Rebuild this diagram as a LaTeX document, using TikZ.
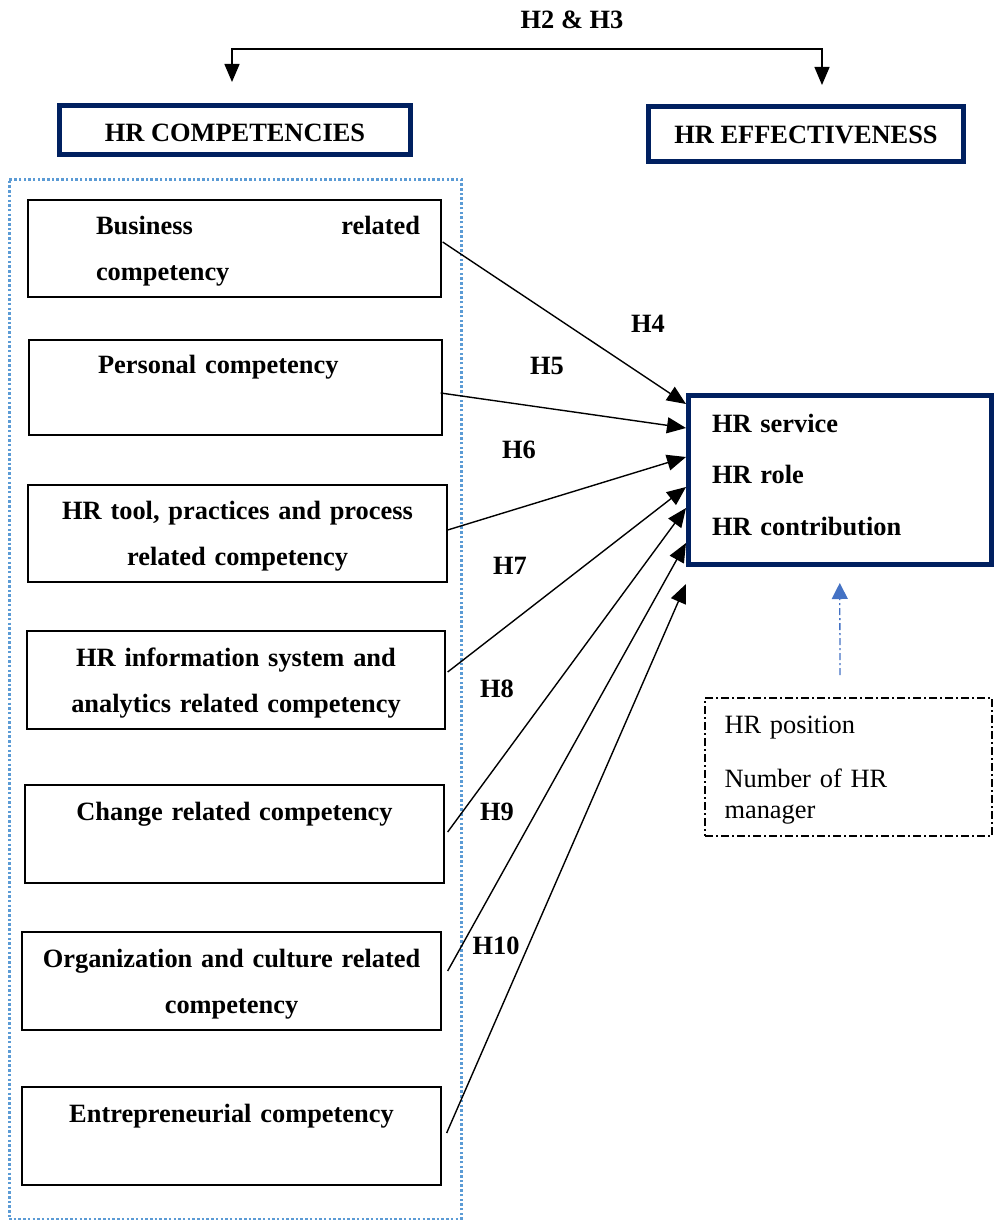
\documentclass[tikz,border=0pt]{standalone}
\usepackage{fontspec}
\setmainfont{Liberation Serif}
\usetikzlibrary{arrows.meta,calc}
\definecolor{navy}{HTML}{002060}
\definecolor{dotblue}{HTML}{5B9BD5}
\definecolor{ctrlblue}{HTML}{4472C4}
\newcommand{\cstr}{\rule[-6pt]{0pt}{30pt}}
\begin{document}
\begin{tikzpicture}[x=1pt,y=-1pt,
  bf/.style={font=\fontsize{26.4pt}{46pt}\selectfont\bfseries},
  compbox/.style={draw=black, line width=1.3pt, inner xsep=0pt, inner ysep=0pt, align=center, bf},
  headbox/.style={draw=navy, line width=5pt, inner sep=0pt, bf},
  hlab/.style={inner sep=0pt, bf},
  hyp/.style={line width=1.4pt, -{Triangle[length=19pt,width=16pt]}},
  toparr/.style={line width=1.4pt, {Triangle[length=18pt,width=15pt]}-{Triangle[length=18pt,width=15pt]}},
  ctrlarr/.style={draw=ctrlblue, line width=1.3pt, dash pattern=on 7pt off 3pt on 2pt off 3pt, -{Triangle[length=16pt,width=16pt]}},
]
\useasboundingbox (0,0) rectangle (995,1220);

% group frame
\node[draw=dotblue, line width=3pt, dash pattern=on 2.5pt off 2.2pt, minimum width=452pt, minimum height=1040pt, inner sep=0pt] (grp) at (235,699) {};

% headers
\node[headbox, minimum width=351pt, minimum height=49pt, text height=24pt, text depth=0pt] (hc) at (235,130) {HR COMPETENCIES};
\node[headbox, minimum width=315pt, minimum height=55pt, text height=20pt, text depth=2pt] (he) at (806,134) {HR EFFECTIVENESS};

\node[hlab] (h23) at (572,20) {H2 \& H3};
\coordinate (topmid) at (527,49);
\draw[toparr] ([xshift=-3pt,yshift=21pt]hc.north) |- (topmid) -| ([xshift=16pt,yshift=19pt]he.north);

% competency boxes
\node[compbox, align=left, minimum width=413pt, minimum height=97pt, text width=413pt] (b1) at (234.5,248.5)
  {\hspace*{68pt}\makebox[324pt]{Business\hfill related}\cstr\\\hspace*{68pt}competency\cstr};
\node[compbox, align=left, minimum width=413pt, minimum height=95pt, text width=413pt] (b2) at (235.5,387.5)
  {\hspace*{69pt}Personal competency\cstr\\\cstr};
\node[compbox, minimum width=419pt, minimum height=97pt, text width=419pt] (b3) at (237.5,533.5)
  {HR tool, practices and process\cstr\\related competency\cstr};
\node[compbox, minimum width=418pt, minimum height=98pt, text width=418pt] (b4) at (236,680)
  {HR information system and\cstr\\analytics related competency\cstr};
\node[compbox, minimum width=419pt, minimum height=98pt, text width=419pt] (b5) at (234.5,834)
  {Change related competency\cstr\\\cstr};
\node[compbox, minimum width=419pt, minimum height=98pt, text width=419pt] (b6) at (231.5,981)
  {Organization and culture related\cstr\\competency\cstr};
\node[compbox, minimum width=419pt, minimum height=98pt, text width=419pt] (b7) at (231.5,1136)
  {Entrepreneurial competency\cstr\\\cstr};

% target
\node[draw=navy, line width=5pt, align=left, text width=255.5pt, inner xsep=23.5pt, inner ysep=0pt,
      minimum width=302.5pt, minimum height=169pt, font=\fontsize{26.4pt}{51.5pt}\selectfont\bfseries] (tgt) at (839.75,479.5)
  {\rule{0pt}{24pt}HR service\\HR role\\HR contribution\rule[-16pt]{0pt}{0pt}};

% control box
\node[draw=black, line width=1.2pt, dash pattern=on 8pt off 3pt on 2pt off 3pt, align=left, text width=248pt,
      inner xsep=19.5pt, inner ysep=0pt, minimum width=287pt, minimum height=138pt,
      font=\fontsize{26.4pt}{31pt}\selectfont] (ctrl) at (848.5,767)
  {\rule{0pt}{24pt}HR position\\[23pt]Number of HR\\manager\rule[-6pt]{0pt}{0pt}};

\draw[ctrlarr] ([xshift=-8.5pt,yshift=22.4pt]ctrl.north) -- ([yshift=-16.5pt]tgt.south);

% hypothesis arrows
\draw[hyp] ([xshift=1pt,yshift=6.5pt]b1.east) -- ([yshift=75.5pt]tgt.west);
\draw[hyp] ([xshift=-2pt,yshift=-5.5pt]b2.east) -- ([yshift=51.5pt]tgt.west);
\draw[hyp] ([yshift=3.5pt]b3.east) -- ([yshift=22.5pt]tgt.west);
\draw[hyp] ([xshift=2pt,yshift=8pt]b4.east) -- ([yshift=-7.5pt]tgt.west);
\draw[hyp] ([xshift=3pt,yshift=2pt]b5.east) -- ([yshift=-28.5pt]tgt.west);
\draw[hyp] ([xshift=6pt,yshift=10pt]b6.east) -- ([yshift=-63.5pt]tgt.west);
\draw[hyp] ([xshift=5pt,yshift=3pt]b7.east) -- ([yshift=-104.5pt]tgt.west);

% labels
\node[hlab] (l4) at (648,324) {H4};
\node[hlab] (l5) at (547,366) {H5};
\node[hlab] (l6) at (519,450) {H6};
\node[hlab] (l7) at (510,566) {H7};
\node[hlab] (l8) at (497,689) {H8};
\node[hlab] (l9) at (497,812) {H9};
\node[hlab] (l10) at (496,946) {H10};
\end{tikzpicture}
\end{document}
